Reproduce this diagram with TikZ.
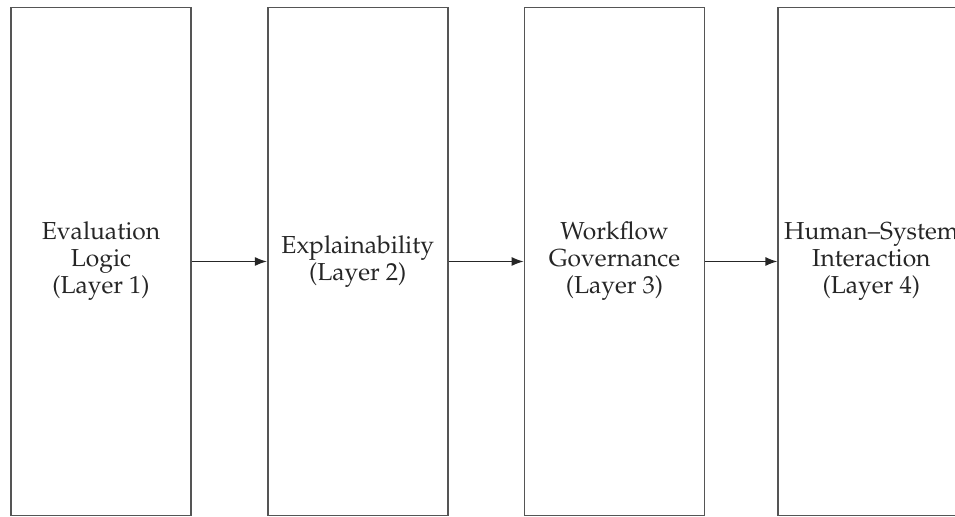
\documentclass[tikz,border=0pt]{standalone}
\usepackage[T1]{fontenc}
\usepackage{mathpazo}
\usepackage{tikz}
\usetikzlibrary{arrows.meta, positioning}
\definecolor{framegray}{RGB}{85, 85, 85}

\begin{document}
\begin{tikzpicture}[
        node distance=1.5cm,
        layerbox/.style={rectangle, draw=framegray, line width=1pt, fill=white, minimum width=3.6cm, minimum height=10.16cm, align=center, text=black!85, font=\fontsize{14}{15.4}\selectfont},
        flow/.style={-{Latex[length=2.4mm, width=1.8mm]}, line width=0.7pt, black!85}
    ]
        \useasboundingbox (0,0) rectangle (19.1,10.34);
        \clip (0,0) rectangle (19.1,10.34);

        % Layers
        \node[layerbox] (logic) at (2.02,5.11) {Evaluation\\Logic\\(Layer 1)};
        \node[layerbox, right=of logic] (explain) {Explainability\\(Layer 2)};
        \node[layerbox, right=of explain] (workflow) {Workflow\\Governance\\(Layer 3)};
        \node[layerbox, right=of workflow, xshift=-0.06cm] (interact) {Human--System\\Interaction\\(Layer 4)};

        % Arrows
        \draw[flow] (logic) -- (explain);
        \draw[flow] (explain) -- (workflow);
        \draw[flow] (workflow) -- (interact);
    \end{tikzpicture}
\end{document}
